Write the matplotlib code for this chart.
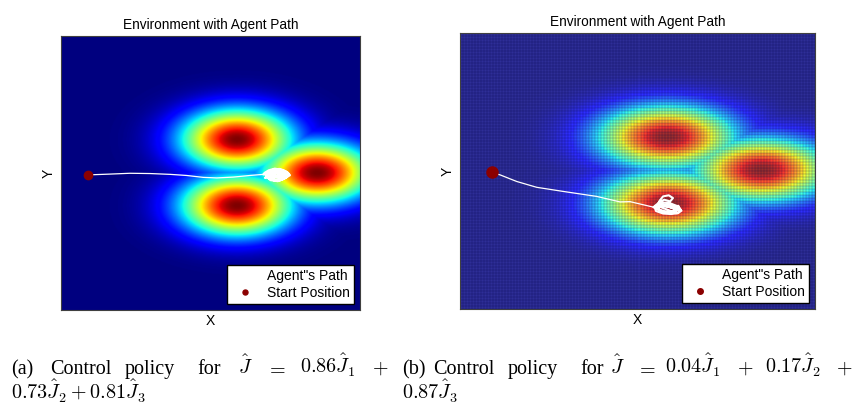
import numpy as np
import matplotlib.pyplot as plt

plt.rcParams['font.family'] = ['Liberation Sans', 'DejaVu Sans']
plt.rcParams['mathtext.fontset'] = 'cm'

# environment: three bumps, data units 0..10 on both axes
left_peak_x = [5.87, 5.87, 8.55]
left_peak_y = [6.23, 3.81, 5.01]
right_peak_x = [5.82, 5.87, 8.50]
right_peak_y = [6.23, 3.83, 5.04]
left_sigma = (1.28, 0.76)
right_sigma = (1.32, 0.78)

start_left = (0.89, 4.93)
start_right = (0.89, 4.95)

# agent path (a): straight run then a scribble near the right bump
path_a_x = [0.89, 1.64, 2.31, 2.98, 3.65, 4.20, 4.76, 5.21, 5.76, 6.32, 6.77,
            6.95, 7.10, 7.30, 7.45, 7.60, 7.55, 7.35, 7.15, 6.95, 6.85, 7.00,
            7.20, 7.40, 7.62, 7.50, 7.30, 7.05, 6.88, 6.80, 6.95, 7.15, 7.35,
            7.55, 7.66, 7.45, 7.25, 7.00, 6.85, 7.05, 7.25, 7.48, 7.60, 7.40,
            7.18, 6.98, 6.82, 7.02, 7.28, 7.50, 7.35, 7.10, 6.92, 7.12, 7.38,
            7.58, 7.42, 7.20, 6.96, 7.08, 7.30, 7.52]
path_a_y = [4.93, 4.96, 4.99, 4.98, 4.95, 4.91, 4.84, 4.82, 4.85, 4.91, 4.95,
            5.05, 5.12, 5.15, 5.10, 5.00, 4.85, 4.75, 4.72, 4.80, 4.92, 5.02,
            5.08, 5.06, 4.96, 4.82, 4.72, 4.76, 4.86, 5.00, 5.10, 5.16, 5.12,
            5.04, 4.92, 4.78, 4.70, 4.74, 4.90, 5.04, 4.98, 4.88, 4.95, 5.08,
            5.02, 4.88, 4.82, 4.94, 4.86, 4.90, 5.00, 5.06, 4.96, 4.84, 4.80,
            4.92, 5.02, 4.98, 4.90, 4.80, 4.94, 4.86]
run_a = 11   # points before the scribble starts

# agent path (b): drifts down towards the lower bump
path_b_x = [0.89, 1.13, 1.60, 2.16, 2.91, 3.85, 4.51, 4.79, 5.45,
            5.55, 5.70, 5.90, 6.10, 6.22, 6.15, 5.95, 5.72, 5.52, 5.48, 5.62,
            5.85, 6.05, 6.24, 6.12, 5.90, 5.66, 5.50, 5.60, 5.80, 6.00, 6.18,
            6.05, 5.82, 5.60, 5.62, 5.72, 5.88, 6.00, 5.92, 5.75, 5.58, 5.70,
            5.95, 6.15, 6.20, 5.98, 5.76, 5.56, 5.68, 5.90, 6.10]
path_b_y = [4.95, 4.86, 4.62, 4.41, 4.26, 4.08, 3.88, 3.89, 3.69,
            3.80, 3.86, 3.84, 3.74, 3.60, 3.48, 3.44, 3.46, 3.55, 3.70, 3.80,
            3.76, 3.66, 3.56, 3.47, 3.50, 3.58, 3.66, 3.72, 3.62, 3.52, 3.60,
            3.72, 3.78, 3.70, 3.92, 4.08, 4.12, 4.02, 3.90, 3.96, 3.84, 3.74,
            3.68, 3.74, 3.62, 3.54, 3.50, 3.62, 3.76, 3.70, 3.58]
run_b = 9


def field(peak_x, peak_y, sigma, X, Y):
    '''Strongest gaussian bump at each grid point'''
    Z = np.zeros_like(X)
    for px, py in zip(peak_x, peak_y):
        g = np.exp(-0.5 * (((X - px) / sigma[0]) ** 2 + ((Y - py) / sigma[1]) ** 2))
        Z = np.maximum(Z, g)
    return Z


def style_axes(ax, title):
    ax.set_xlim(0, 10)
    ax.set_ylim(0, 10)
    ax.set_xticks([])
    ax.set_yticks([])
    for s in ax.spines.values():
        s.set_color('#404040')
        s.set_linewidth(0.8)
    ax.set_title(title, fontsize=9.8, pad=5)
    ax.set_xlabel('X', fontsize=10, labelpad=3)
    ax.set_ylabel('Y', fontsize=10, labelpad=4)


def add_legend(ax, scale):
    ax.legend(loc='lower right', fontsize=10, frameon=True, fancybox=False,
              framealpha=1, edgecolor='black', borderaxespad=0.4, borderpad=0.3,
              labelspacing=0.25, handletextpad=0.6, markerscale=scale)


fig = plt.figure(figsize=(8.58, 4.05), dpi=100)
ax1 = fig.add_axes([0.0711, 0.2346, 0.3485, 0.6765])
ax2 = fig.add_axes([0.5361, 0.2370, 0.4138, 0.6815])

# (a) smooth map
xs = np.linspace(0, 10, 400)
X, Y = np.meshgrid(xs, xs)
Z1 = field(left_peak_x, left_peak_y, left_sigma, X, Y)
ax1.imshow(Z1, cmap='jet', vmin=0, vmax=1, origin='lower',
           extent=[0, 10, 0, 10], aspect='auto', interpolation='bilinear')
ax1.plot(path_a_x[:run_a], path_a_y[:run_a], color='white', lw=0.9,
         label='Agent"s Path')
ax1.plot(path_a_x[run_a - 1:], path_a_y[run_a - 1:], color='white', lw=1.5)
ax1.plot(*start_left, 'o', color='#8b0000', ms=6, label='Start Position')
style_axes(ax1, 'Environment with Agent Path')
add_legend(ax1, 0.6)

# (b) meshed map
xe = np.linspace(0, 10, 119)
ye = np.linspace(0, 10, 93)
XE, YE = np.meshgrid(xe, ye)
XC = 0.5 * (XE[:-1, :-1] + XE[1:, 1:])
YC = 0.5 * (YE[:-1, :-1] + YE[1:, 1:])
Z2 = field(right_peak_x, right_peak_y, right_sigma, XC, YC)
ax2.pcolormesh(XE, YE, Z2, cmap='jet', vmin=0, vmax=1, alpha=0.82)
ax2.vlines(xe, 0, 10, color=(0.0, 0.0, 0.25), lw=0.35, alpha=0.45)
ax2.hlines(ye, 0, 10, color=(0.0, 0.0, 0.25), lw=0.35, alpha=0.45)
ax2.plot(path_b_x[:run_b], path_b_y[:run_b], color='white', lw=0.9,
         label='Agent"s Path')
ax2.plot(path_b_x[run_b - 1:], path_b_y[run_b - 1:], color='white', lw=1.5)
ax2.plot(*start_right, 'o', color='#8b0000', ms=8, label='Start Position')
style_axes(ax2, 'Environment with Agent Path')
add_legend(ax2, 0.5)

# captions (justified by hand)
W, H = 858.0, 405.0
cap = dict(fontsize=14.5, family='Liberation Serif', va='baseline', ha='left')
line1 = 1 - 374 / H
line2 = 1 - 400 / H
for txt, px in [('(a)', 11), ('Control', 50), ('policy', 125), ('for', 197),
                (r'$\hat{J}$', 238), (r'$=$', 266), (r'$0.86\hat{J}_1$', 300),
                (r'$+$', 372)]:
    fig.text(px / W, line1, txt, **cap)
fig.text(11 / W, line2, r'$0.73\hat{J}_2 + 0.81\hat{J}_3$', **cap)
for txt, px in [('(b)', 402), ('Control', 433), ('policy', 508), ('for', 580),
                (r'$\hat{J}$', 610), (r'$=$', 636), (r'$0.04\hat{J}_1$', 665),
                (r'$+$', 737), (r'$0.17\hat{J}_2$', 765), (r'$+$', 836)]:
    fig.text(px / W, line1, txt, **cap)
fig.text(402 / W, line2, r'$0.87\hat{J}_3$', **cap)

fig.savefig('out.png', dpi=100)
